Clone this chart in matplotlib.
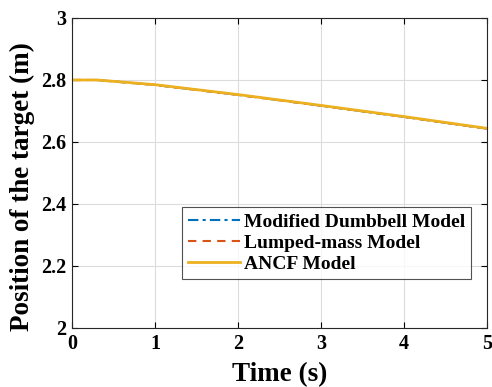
import numpy as np
import matplotlib.pyplot as plt

t = [0, 0.3, 1, 2, 3, 4, 5]
pos_dumbbell = [2.800, 2.800, 2.784, 2.752, 2.717, 2.681, 2.643]
pos_lumped = [2.800, 2.800, 2.784, 2.752, 2.717, 2.681, 2.643]
pos_ancf = [2.800, 2.800, 2.785, 2.753, 2.718, 2.682, 2.644]

plt.rcParams['font.family'] = 'Liberation Serif'
plt.rcParams['font.weight'] = 'bold'

fig = plt.figure(figsize=(4.92, 3.87), dpi=100)
ax = fig.add_axes([0.1463, 0.1525, 0.8435, 0.801])

ax.plot(t, pos_dumbbell, color='#0072BD', ls=(0, (5, 2, 1.5, 2)), lw=1.5, label='Modified Dumbbell Model')
ax.plot(t, pos_lumped, color='#D95319', ls=(0, (4, 3)), lw=1.5, label='Lumped-mass Model')
ax.plot(t, pos_ancf, color='#EDB120', ls='-', lw=2, label='ANCF Model')

ax.set_xlim(0, 5)
ax.set_ylim(2, 3)
ax.set_xticks([0, 1, 2, 3, 4, 5])
ax.set_yticks([2, 2.2, 2.4, 2.6, 2.8, 3])
ax.set_yticklabels(['2', '2.2', '2.4', '2.6', '2.8', '3'])
ax.grid(True, color='#dcdcdc', lw=0.8)
ax.tick_params(direction='in', top=True, right=True, labelsize=14.5, length=4, pad=4)
for s in ax.spines.values():
    s.set_color('#262626')
ax.set_xlabel('Time (s)', fontsize=19.5, fontweight='bold', labelpad=6)
ax.set_ylabel('Position of the target (m)', fontsize=19.5, fontweight='bold')
ax.yaxis.set_label_coords(-0.088, 0.455)

leg = ax.legend(loc='upper left', bbox_to_anchor=(0.265, 0.39), fontsize=14,
                frameon=True, fancybox=False, handlelength=2.7, borderpad=0.3,
                labelspacing=0.18, handletextpad=0.2, borderaxespad=0)
leg.get_frame().set_edgecolor('#262626')
leg.get_frame().set_linewidth(0.8)

fig.savefig('out.png', dpi=100)
